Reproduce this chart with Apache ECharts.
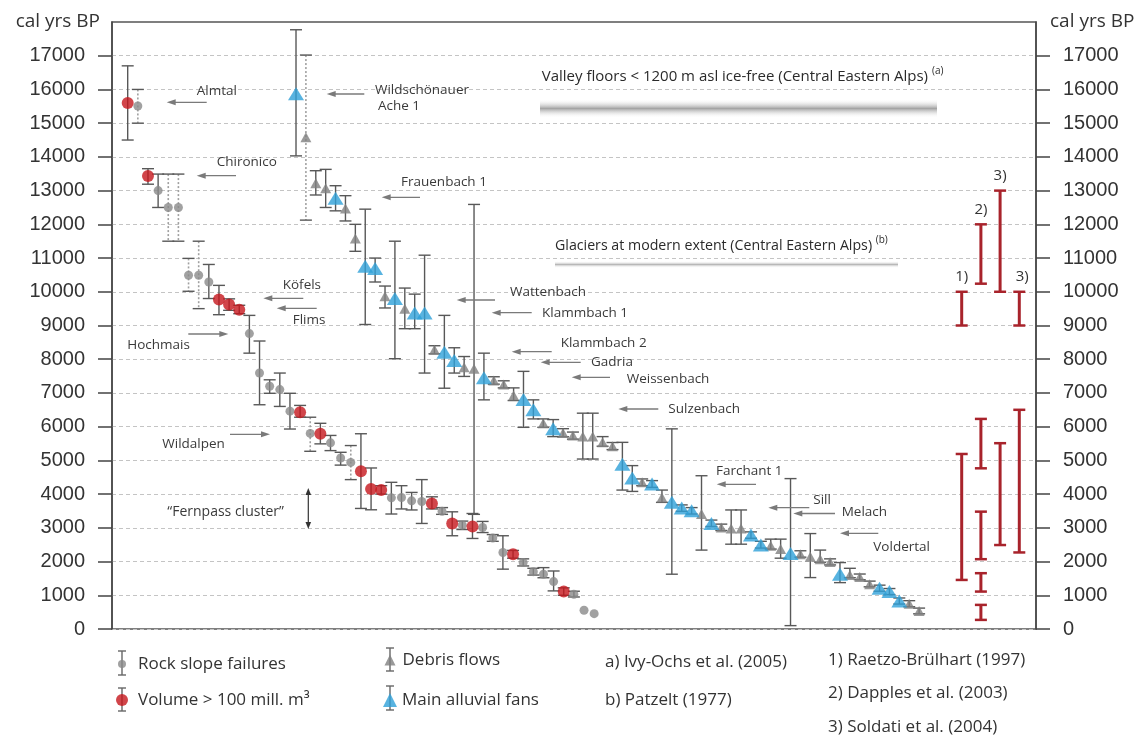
<!DOCTYPE html>
<html><head><meta charset="utf-8">
<script src="https://cdn.jsdelivr.net/npm/echarts@6/dist/echarts.min.js"></script>
<style>html,body{margin:0;padding:0;background:#fff}#c{width:1148px;height:735px}</style>
</head><body><div id="c"></div>
<script>
// ---------- DATA ----------
const yTicks = [0,1000,2000,3000,4000,5000,6000,7000,8000,9000,10000,11000,12000,13000,14000,15000,16000,17000];

// Rock slope failures (sequence order), ages in cal yrs BP
const rockAge = [15600,15510,13430,13000,12500,12500,10490,10490,10290,9770,9620,9470,8760,7590,7200,7100,6460,6430,5800,5790,5520,5070,4940,4675,4150,4120,3890,3900,3800,3780,3725,3490,3130,3080,3040,3010,2695,2270,2220,1970,1700,1625,1405,1110,1030,555,455];
const rockHi  = [16700,16000,13650,13490,13490,13490,10990,11500,10810,10190,9790,9600,9300,8540,7390,7590,6990,6630,6280,6100,5740,5240,5440,5790,4775,4250,4350,4250,4050,4430,3920,3600,3475,3200,3425,3190,2800,2765,2330,2080,1800,1820,1720,1220,1120,null,null];
const rockLo  = [14500,15000,13190,12500,11500,11500,10015,9500,9800,9320,9450,9350,8180,6650,6990,6600,5930,6280,5270,5490,5290,4860,4430,3575,3535,4000,3410,3560,3530,3130,3560,3400,2765,2950,2685,2860,2600,1775,2100,1870,1600,1520,1130,1000,950,null,null];
const rockBig = [1,0,1,0,0,0,0,0,0,1,1,1,0,0,0,0,0,1,0,1,0,0,0,1,1,1,0,0,0,0,1,0,1,0,1,0,0,0,1,0,0,0,0,1,0,0,0];
const rockDotted = [0,1,0,0,1,1,1,1,0,0,0,0,0,0,0,0,0,0,1,0,0,0,1,0,0,0,0,0,0,0,0,0,0,0,0,0,0,0,0,0,0,0,0,0,0,0,0];

// Debris flows / main alluvial fans (sequence order)
const debrisAge = [15870,14580,13215,13070,12770,12470,11580,10760,10690,9870,9800,9500,9370,9370,8280,8210,7965,7765,7720,7450,7370,7250,6925,6805,6500,6100,5935,5815,5735,5705,5705,5540,5420,4885,4480,4350,4300,3900,3755,3585,3505,3410,3130,3010,2980,2980,2785,2490,2465,2370,2240,2220,2140,2070,1990,1625,1605,1545,1330,1210,1110,830,750,535];
const debrisHi  = [17770,17020,13590,13630,13145,12850,12000,12450,11000,10170,11500,10110,9930,11085,8400,9300,8340,8080,12590,8180,7480,7360,7150,7640,6795,6230,6210,5940,5840,6400,6400,5705,5530,5535,4845,4450,4400,4120,5935,3680,3600,4545,3230,3110,3530,3530,2880,2600,2665,2665,4460,2320,2830,2340,2080,1970,1800,1630,1420,1300,1200,920,840,620];
const debrisLo  = [14030,12125,12870,12500,12400,12100,11200,9030,10290,9520,8015,8905,8905,7590,8160,7140,7590,7490,3400,6795,7260,7150,6775,5980,6230,5980,5705,5700,5630,5040,5040,5420,5320,4120,4080,4250,4200,3755,1625,3490,3410,2340,3040,2920,2515,2515,2690,2400,2370,2100,100,2130,1525,1980,1900,1375,1520,1460,1250,1120,1020,740,660,450];
const debrisFan = [1,0,0,0,1,0,0,1,1,0,1,0,1,1,0,1,1,0,0,1,0,0,0,1,1,0,1,0,0,0,0,0,0,1,1,0,1,0,1,1,1,0,1,0,0,0,1,1,0,0,1,0,0,0,0,1,0,0,0,1,1,1,0,0];
const debrisDotted = debrisAge.map((_, i) => i === 1 ? 1 : 0);

// Literature ranges (right side): column 0..3
const refCol  = [0,0,1,1,1,1,1,2,2,3,3];
const refHi   = [10000,5190,12000,6230,3480,1655,715,13000,5510,10000,6500];
const refLo   = [9000,1455,10240,4765,2070,1110,270,10000,2490,9000,2270];
const refNote = ['1)','','2)','','','','','3)','','3)',''];

// ---------- STYLE ----------
const FONT = '"Open Sans", "Noto Sans", sans-serif';
const TXT = '#333';
const RED = '#c5161d', BLUE = '#2ea0d8', GREY_C = '#8a8a8a', GREY_T = '#808080';
const BAR = '#585858', DOT = '#a0a0a0', REFRED = '#a8232b';

function errRender(params, api) {
  const x = api.value(0), lo = api.value(1), hi = api.value(2), dot = api.value(3);
  const t = api.coord([x, hi]), b = api.coord([x, lo]);
  const w = 6;
  return { type: 'group', children: [
    { type: 'line', shape: { x1: t[0], y1: t[1], x2: b[0], y2: b[1] },
      style: { stroke: dot ? DOT : BAR, lineWidth: dot ? 1.6 : 1.4, lineDash: dot ? [2, 2] : null } },
    { type: 'line', shape: { x1: t[0]-w, y1: t[1], x2: t[0]+w, y2: t[1] }, style: { stroke: BAR, lineWidth: 1.4 } },
    { type: 'line', shape: { x1: b[0]-w, y1: b[1], x2: b[0]+w, y2: b[1] }, style: { stroke: BAR, lineWidth: 1.4 } }
  ]};
}
function refRender(params, api) {
  const x = api.value(0), lo = api.value(1), hi = api.value(2);
  const note = refNote[params.dataIndex];
  const t = api.coord([x, hi]), b = api.coord([x, lo]);
  const w = 6;
  const ch = [
    { type: 'line', shape: { x1: t[0], y1: t[1], x2: b[0], y2: b[1] }, style: { stroke: REFRED, lineWidth: 3 } },
    { type: 'line', shape: { x1: t[0]-w, y1: t[1], x2: t[0]+w, y2: t[1] }, style: { stroke: REFRED, lineWidth: 2.5 } },
    { type: 'line', shape: { x1: b[0]-w, y1: b[1], x2: b[0]+w, y2: b[1] }, style: { stroke: REFRED, lineWidth: 2.5 } }
  ];
  if (note) ch.push({ type: 'text', x: t[0] + (x === 3 ? 3 : 0), y: t[1] - 15,
    style: { text: note, align: 'center', verticalAlign: 'middle', font: '15px ' + FONT, fill: TXT } });
  return { type: 'group', children: ch };
}

const rockErrData = rockAge.map((a, i) => rockHi[i] == null ? null : [i, rockLo[i], rockHi[i], rockDotted[i]]).filter(Boolean);
const debrisErrData = debrisAge.map((a, i) => [i, debrisLo[i], debrisHi[i], debrisDotted[i]]);
const refData = refCol.map((c, i) => [c, refLo[i], refHi[i]]);

// ---------- ANNOTATIONS (pixel layout) ----------
const notes = [
  ['Almtal', 196.7, 90.7], ['Chironico', 216.7, 161.7], ['Wildschönauer', 375, 90], ['Ache 1', 378, 106],
  ['Frauenbach 1', 401, 182.3], ['Wattenbach', 510, 291.7], ['Klammbach 1', 542, 312.7],
  ['Klammbach 2', 560.7, 342.7], ['Gadria', 591, 361.7], ['Weissenbach', 626.7, 379],
  ['Sulzenbach', 668.3, 409.3], ['Farchant 1', 716, 470.7], ['Sill', 813.3, 500], ['Melach', 841.7, 512],
  ['Voldertal', 873.3, 546.7], ['Köfels', 282.7, 285], ['Flims', 292.7, 320], ['Hochmais', 127.3, 345],
  ['Wildalpen', 162.3, 444]
];
const arrows = [
  [206.7,166.7,102.3],[236,196.7,175.7],[364.3,326.7,94],[420,381.7,197.3],[495,456.7,300],[531.7,491.7,312.7],
  [551.7,511.7,351.7],[580.7,540.7,362.3],[610,571.7,377.3],[658.3,618.3,409],[756,716.7,484.3],[809.3,768.3,507.7],
  [835,793.3,513.5],[878.3,840,533.3],[303.3,263.3,298.3],[316.7,276.7,308.3],[188.3,228.3,334],[230,270,434.3]
];
const graphics = [];
notes.forEach(n => graphics.push({ type: 'text', x: n[1], y: n[2], z: 10,
  style: { text: n[0], font: '13.5px ' + FONT, fill: '#3a3a3a', align: 'left', verticalAlign: 'middle' } }));
arrows.forEach(a => {
  const dir = a[0] > a[1] ? 1 : -1;
  graphics.push({ type: 'line', z: 10, shape: { x1: a[0], y1: a[2], x2: a[1] + dir * 6, y2: a[2] }, style: { stroke: '#7a7a7a', lineWidth: 1.3 } });
  graphics.push({ type: 'polygon', z: 10, shape: { points: [[a[1], a[2]], [a[1] + dir * 9, a[2] - 3], [a[1] + dir * 9, a[2] + 3]] }, style: { fill: '#7a7a7a' } });
});
// Fernpass cluster
graphics.push({ type: 'text', x: 167.3, y: 511.7, z: 10, style: { text: '\u201CFernpass cluster\u201D', font: '14px ' + FONT, fill: '#3a3a3a', verticalAlign: 'middle' } });
graphics.push({ type: 'line', z: 10, shape: { x1: 308.3, y1: 493, x2: 308.3, y2: 524 }, style: { stroke: '#333', lineWidth: 1.2 } });
graphics.push({ type: 'polygon', z: 10, shape: { points: [[308.3, 488], [305.5, 495], [311.1, 495]] }, style: { fill: '#333' } });
graphics.push({ type: 'polygon', z: 10, shape: { points: [[308.3, 529], [305.5, 522], [311.1, 522]] }, style: { fill: '#333' } });
// bands
graphics.push({ type: 'rect', z: 5, shape: { x: 540, y: 99, width: 397, height: 19 },
  style: { fill: { type: 'linear', x: 0, y: 0, x2: 0, y2: 1, colorStops: [
    { offset: 0, color: 'rgba(255,255,255,0)' }, { offset: 0.5, color: '#a4a4a4' }, { offset: 1, color: 'rgba(255,255,255,0)' }] } } });
graphics.push({ type: 'text', x: 541.7, y: 76.7, z: 10, style: {
  text: 'Valley floors < 1200 m asl ice-free (Central Eastern Alps) {s|(a)}', font: '15px ' + FONT, fill: '#2a2a2a',
  verticalAlign: 'middle', lineHeight: 22, rich: { s: { fontSize: 10, fontFamily: FONT, verticalAlign: 'top', lineHeight: 22, fill: '#2a2a2a' } } } });
graphics.push({ type: 'rect', z: 5, shape: { x: 555, y: 261, width: 343, height: 7 },
  style: { fill: { type: 'linear', x: 0, y: 0, x2: 0, y2: 1, colorStops: [
    { offset: 0, color: 'rgba(255,255,255,0)' }, { offset: 0.5, color: '#b8b8b8' }, { offset: 1, color: 'rgba(255,255,255,0)' }] } } });
graphics.push({ type: 'text', x: 555, y: 246, z: 10, style: {
  text: 'Glaciers at modern extent (Central Eastern Alps) {s|(b)}', font: '14.2px ' + FONT, fill: '#2a2a2a',
  verticalAlign: 'middle', lineHeight: 22, rich: { s: { fontSize: 10, fontFamily: FONT, verticalAlign: 'top', lineHeight: 22, fill: '#2a2a2a' } } } });
// legend error-bar glyphs
[[122, 651, 675], [122, 688, 711], [390, 648, 671], [390, 686, 710]].forEach(g => {
  graphics.push({ type: 'line', z: 1, shape: { x1: g[0], y1: g[1], x2: g[0], y2: g[2] }, style: { stroke: '#666', lineWidth: 1.4 } });
  graphics.push({ type: 'line', z: 1, shape: { x1: g[0]-4, y1: g[1], x2: g[0]+4, y2: g[1] }, style: { stroke: '#666', lineWidth: 1.4 } });
  graphics.push({ type: 'line', z: 1, shape: { x1: g[0]-4, y1: g[2], x2: g[0]+4, y2: g[2] }, style: { stroke: '#666', lineWidth: 1.4 } });
});
// reference list
[['a) Ivy-Ochs et al. (2005)', 605, 662], ['b) Patzelt (1977)', 605, 700], ['1) Raetzo-Brülhart (1997)', 828, 660],
 ['2) Dapples et al. (2003)', 828, 693], ['3) Soldati et al. (2004)', 828, 727]].forEach(r =>
  graphics.push({ type: 'text', x: r[1], y: r[2], z: 10, style: { text: r[0], font: '17px ' + FONT, fill: TXT, verticalAlign: 'middle' } }));

// ---------- CHART ----------
const yAxisBase = (pos) => ({
  type: 'value', min: 0, max: 18000, interval: 1000, position: pos,
  axisLine: { show: true, onZero: false, lineStyle: { color: '#444', width: 1.5 } },
  axisTick: { show: true, length: 14, customValues: yTicks, lineStyle: { color: '#444', width: 1.5 } },
  axisLabel: { customValues: yTicks, margin: 27, fontSize: 20, fontFamily: '"Liberation Sans", Arial, sans-serif', color: TXT,
    formatter: v => (v > 17000 ? '' : String(v)) },
  name: 'cal yrs BP', nameLocation: 'end', nameGap: 0,
  nameTextStyle: { fontFamily: FONT, fontSize: 19, color: TXT, verticalAlign: 'middle',
    align: pos === 'left' ? 'right' : 'left', padding: pos === 'left' ? [0, 12, 0, 0] : [0, 0, 0, 14] }
});
const lt = (pad) => ({ fontFamily: FONT, fontSize: 17, color: TXT, lineHeight: 24, padding: [0, 0, 0, pad] });
const option = {
  animation: false,
  backgroundColor: '#fff',
  grid: { left: 112, right: 112, top: 22, bottom: 106, show: true, borderColor: '#555', borderWidth: 1.5 },
  xAxis: [
    { type: 'value', min: -1.548, max: 89.57, show: false, axisLine: { onZero: false } },
    { type: 'value', min: -18.605, max: 74.82, show: false, axisLine: { onZero: false } },
    { type: 'value', min: -44.255, max: 3.87, show: false, axisLine: { onZero: false } }
  ],
  yAxis: [
    Object.assign(yAxisBase('left'), { splitLine: { show: true, lineStyle: { type: [4, 3], color: '#c4c4c4', width: 1 } } }),
    Object.assign(yAxisBase('right'), { splitLine: { show: false } })
  ],
  legend: [
    { data: [{ name: 'Rock slope failures', icon: 'circle' }], left: 118, top: 652, padding: 0, itemWidth: 8, itemHeight: 8, textStyle: lt(7) },
    { data: [{ name: 'Volume > 100 mill. m\u00B3', icon: 'circle' }], left: 116, top: 688, padding: 0, itemWidth: 12, itemHeight: 12, textStyle: lt(5) },
    { data: [{ name: 'Debris flows', icon: 'triangle' }], left: 384.5, top: 648, padding: 0, itemWidth: 11, itemHeight: 11, textStyle: lt(2) },
    { data: [{ name: 'Main alluvial fans', icon: 'triangle' }], left: 383, top: 688, padding: 0, itemWidth: 14, itemHeight: 14, textStyle: lt(0) }
  ],
  graphic: graphics,
  series: [
    { type: 'custom', name: 'rockErr', xAxisIndex: 0, yAxisIndex: 0, z: 2, silent: true,
      renderItem: errRender, encode: { x: 0, y: [1, 2] }, data: rockErrData },
    { type: 'custom', name: 'debrisErr', xAxisIndex: 1, yAxisIndex: 0, z: 2, silent: true,
      renderItem: errRender, encode: { x: 0, y: [1, 2] }, data: debrisErrData },
    { type: 'scatter', name: 'Rock slope failures', xAxisIndex: 0, yAxisIndex: 0, z: 3, symbol: 'circle', symbolSize: 9,
      itemStyle: { color: GREY_C }, data: rockAge.map((a, i) => rockBig[i] ? null : [i, a]).filter(Boolean) },
    { type: 'scatter', name: 'Volume > 100 mill. m\u00B3', xAxisIndex: 0, yAxisIndex: 0, z: 4, symbol: 'circle', symbolSize: 12,
      itemStyle: { color: RED }, data: rockAge.map((a, i) => rockBig[i] ? [i, a] : null).filter(Boolean) },
    { type: 'scatter', name: 'Debris flows', xAxisIndex: 1, yAxisIndex: 0, z: 3, symbol: 'triangle', symbolSize: [11, 10],
      itemStyle: { color: GREY_T }, data: debrisAge.map((a, i) => debrisFan[i] ? null : [i, a]).filter(Boolean) },
    { type: 'scatter', name: 'Main alluvial fans', xAxisIndex: 1, yAxisIndex: 0, z: 4, symbol: 'triangle', symbolSize: [16, 13],
      itemStyle: { color: BLUE }, data: debrisAge.map((a, i) => debrisFan[i] ? [i, a] : null).filter(Boolean) },
    { type: 'custom', name: 'Literature ranges', xAxisIndex: 2, yAxisIndex: 0, z: 2, silent: true,
      renderItem: refRender, encode: { x: 0, y: [1, 2] }, data: refData }
  ]
};
const chart = echarts.init(document.getElementById('c'), null, { renderer: 'canvas' });
chart.setOption(option);
</script></body></html>
